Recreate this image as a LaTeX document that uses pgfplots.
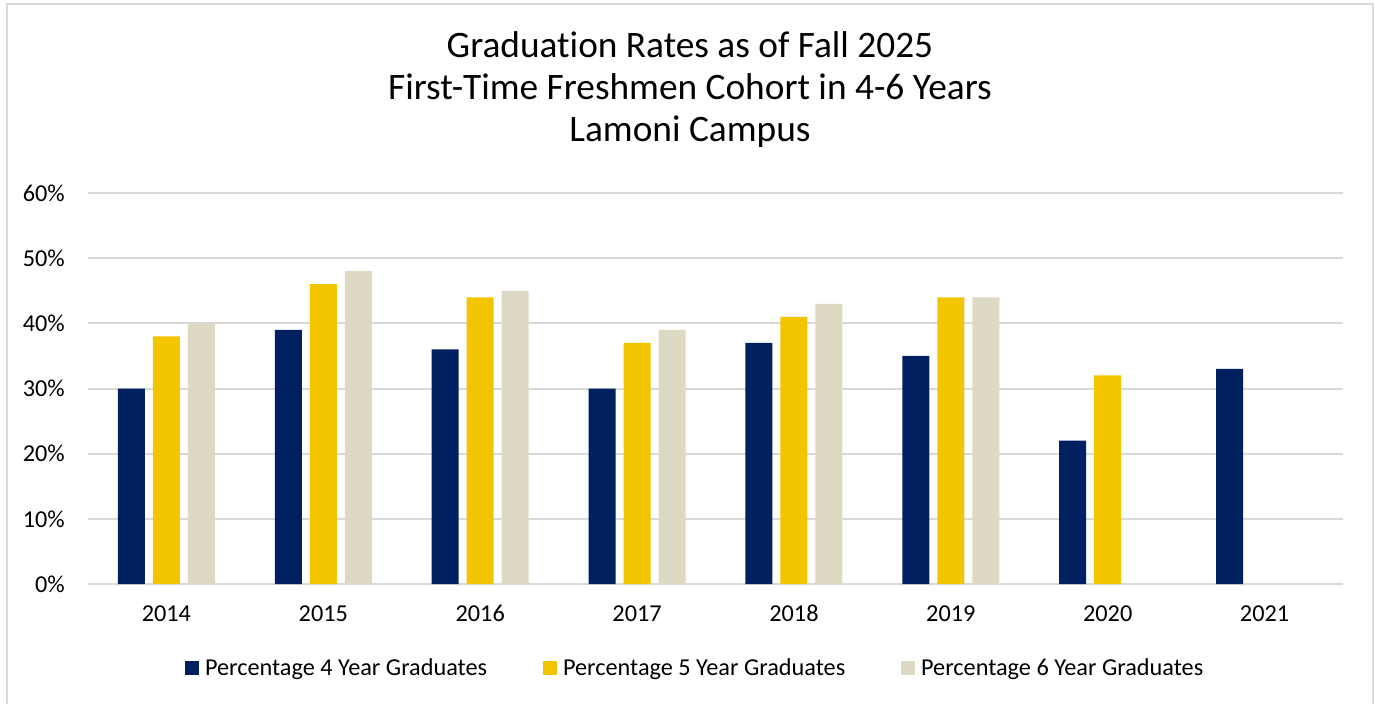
\documentclass[border=0pt]{standalone}
\usepackage{pgfplots}
\pgfplotsset{compat=1.18}
\usepackage{fontspec}
\setmainfont{Carlito}[Ligatures={NoCommon}]
\definecolor{navy}{RGB}{0,32,96}
\definecolor{gold}{RGB}{242,197,0}
\definecolor{beige}{RGB}{221,217,195}
\definecolor{gridgray}{RGB}{217,217,217}
\begin{document}
\begin{tikzpicture}
\useasboundingbox (0,0) rectangle (1031.25pt,528pt);
\fill[white] (0,0) rectangle (1031.25pt,528pt);
\draw[gridgray, line width=1.5pt] (5.25pt,0) -- (5.25pt,525pt) -- (1029.4pt,525pt) -- (1029.4pt,0);
\begin{axis}[
  at={(66pt,90pt)}, anchor=south west,
  scale only axis, width=941.25pt, height=293.25pt,
  xmin=-0.5, xmax=7.5, ymin=0, ymax=60,
  enlargelimits=false,
  axis line style={draw=none},
  major tick length=0pt,
  ymajorgrids, grid style={gridgray, line width=1.5pt},
  ytick={0,10,20,30,40,50,60},
  yticklabels={0\%,10\%,20\%,30\%,40\%,50\%,60\%},
  xtick={0,1,2,3,4,5,6,7},
  xticklabels={2014,2015,2016,2017,2018,2019,2020,2021},
  tick label style={font=\fontsize{18.2}{22}\selectfont, text=black, inner sep=0pt},
  yticklabel style={anchor=east, xshift=-17.25pt},
  xticklabel style={anchor=base, yshift=-28.3pt},
  ybar, bar width=20.25pt,
  legend columns=3,
  legend style={at={(0.4835,-0.2148)}, anchor=center, draw=none, fill=none,
    font=\fontsize{18.2}{22}\selectfont, inner sep=0pt,
    /tikz/every even column/.append style={column sep=41pt},
    /tikz/every odd column/.append style={column sep=3.5pt},
    nodes={inner sep=1pt}},
  legend image code/.code={\fill[#1] (0pt,-5.25pt) rectangle (10.5pt,5.25pt);},
]
\addplot[fill=navy, draw=none, bar shift=-26.25pt] coordinates {(0,30) (1,39) (2,36) (3,30) (4,37) (5,35) (6,22) (7,33)};
\addplot[fill=gold, draw=none, bar shift=0pt] coordinates {(0,38) (1,46) (2,44) (3,37) (4,41) (5,44) (6,32)};
\addplot[fill=beige, draw=none, bar shift=26.25pt] coordinates {(0,40) (1,48) (2,45) (3,39) (4,43) (5,44)};
\legend{Percentage 4 Year Graduates, Percentage 5 Year Graduates, Percentage 6 Year Graduates}
\end{axis}
\node[anchor=base, font=\fontsize{28}{34}\selectfont] at (517.5pt,485pt) {Graduation Rates as of Fall 2025};
\node[anchor=base, font=\fontsize{28}{34}\selectfont] at (517.5pt,453.4pt) {First-Time Freshmen Cohort in 4-6 Years};
\node[anchor=base, font=\fontsize{28}{34}\selectfont] at (517.5pt,421.7pt) {Lamoni Campus};
\end{tikzpicture}
\end{document}
